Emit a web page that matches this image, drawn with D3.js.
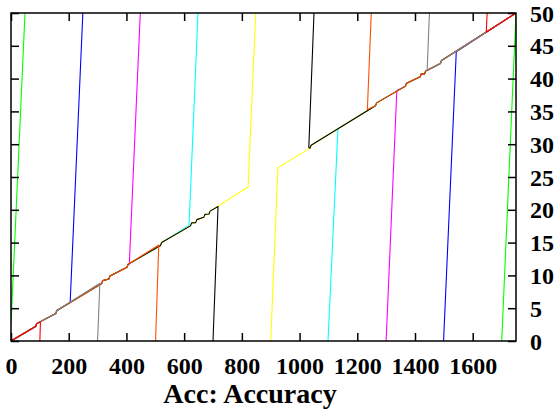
<!DOCTYPE html>
<html>
<head>
<meta charset="utf-8">
<script src="https://cdn.jsdelivr.net/npm/d3@7"></script>
<style>
  html, body { margin: 0; padding: 0; background: #fff; }
  svg { display: block; }
</style>
</head>
<body>
<svg id="chart" width="555" height="417"></svg>
<script>
// ---------------- data ----------------
const xTicks = [0, 200, 400, 600, 800, 1000, 1200, 1400, 1600];
const yTicks = [0, 5, 10, 15, 20, 25, 30, 35, 40, 45, 50];
const xTitle = "Acc: Accuracy";

// shared diagonal profile (x, y) with the small notches
const profile = [
  [0, 0], [85, 2.2], [89, 2.65], [155, 4.2], [159, 4.65],
  [314, 8.75], [318, 9.2], [339, 9.45], [343, 9.9], [402, 11.25], [406, 11.7],
  [518, 14.55], [522, 15.0], [622, 17.55], [626, 18.0], [640, 18.05], [644, 18.5],
  [668, 18.85], [672, 19.3], [686, 19.35], [690, 19.8],
  [1036, 29.4], [1040, 29.85], [1263, 35.85], [1267, 36.3], [1367, 38.85], [1371, 39.3],
  [1418, 40.3], [1422, 40.75], [1433, 40.7], [1437, 41.15], [1488, 42.3], [1492, 42.75],
  [1750, 50]
];

// series, in drawing order (last on top)
const seriesColors = ["#00ff00", "#0000ff", "#ff00ff", "#00ffff", "#ffff00", "#000000", "#ff4d00", "#808080", "#ff0000"];
// where each series leaves the diagonal on the left, and the end of its steep piece
const leftJoin  = [[0, 2.5], [205, 5.86], [410, 11.71], [617, 17.63], [821.5, 23.47], [717.5, 20.5], [512, 14.63], [308, 8.8], [102, 2.91]];
const leftTip   = [[48.5, 50], [249, 50], [448, 50], [648, 50], [848, 50], [700, 0], [501, 0], [300, 0], [100, 0]];
// start of the steep piece on the right, and where it rejoins the diagonal
const rightTip  = [[1700.5, 0], [1499, 0], [1300, 0], [1098.5, 0], [900, 0], [1050, 50], [1248.5, 50], [1450, 50], [1650, 50]];
const rightJoin = [[1750, 50], [1543, 44.09], [1337, 38.2], [1133, 32.37], [925, 26.43], [1032, 29.49], [1235, 35.29], [1442, 41.2], [1647, 47.06]];

// ---------------- layout ----------------
const plot = { left: 11, right: 516, top: 13, bottom: 341 };
const svg = d3.select("#chart");

const x = d3.scaleLinear().domain([0, 1750]).range([plot.left, plot.right]);
const y = d3.scaleLinear().domain([0, 50]).range([plot.bottom, plot.top]);

svg.append("defs").append("clipPath").attr("id", "clip")
  .append("rect")
  .attr("x", plot.left).attr("y", plot.top)
  .attr("width", plot.right - plot.left).attr("height", plot.bottom - plot.top);

const line = d3.line().x(d => x(d[0])).y(d => y(d[1]));
const g = svg.append("g").attr("clip-path", "url(#clip)");

seriesColors.forEach((c, i) => {
  const lj = leftJoin[i], rj = rightJoin[i];
  const leftPart = profile.filter(p => p[0] < lj[0]).concat([lj, leftTip[i]]);
  const rightPart = [rightTip[i], rj].concat(profile.filter(p => p[0] > rj[0]));
  [leftPart, rightPart].forEach(part => {
    g.append("path")
      .attr("d", line(part))
      .attr("fill", "none")
      .attr("stroke", c)
      .attr("stroke-width", 1.1)
      .attr("stroke-linejoin", "round");
  });
});

// ---------------- axes ----------------
const tickLen = 8;
const axisColor = "#000";
const fmt = d3.format("d");
const bottomAxis = d3.axisBottom(x).tickValues(xTicks).tickFormat(fmt).tickSizeInner(-tickLen).tickSizeOuter(0);
const topAxis = d3.axisTop(x).tickValues(xTicks).tickSizeInner(-tickLen).tickSizeOuter(0).tickFormat("");
const leftAxis = d3.axisLeft(y).tickValues(yTicks).tickSizeInner(-tickLen).tickSizeOuter(0).tickFormat("");
const rightAxis = d3.axisRight(y).tickValues(yTicks).tickFormat(fmt).tickSizeInner(-tickLen).tickSizeOuter(0);

function styleAxis(sel) {
  sel.select(".domain").remove();
  sel.selectAll("line").attr("stroke", axisColor).attr("stroke-width", 1.5);
  sel.selectAll("text")
    .attr("fill", "#000")
    .style("font-family", "'Liberation Serif', 'Times New Roman', serif")
    .style("font-weight", "bold")
    .style("font-size", "24px");
}

const gb = svg.append("g").attr("transform", `translate(0,${plot.bottom})`).call(bottomAxis).call(styleAxis);
gb.selectAll("text").attr("dy", null).attr("y", 33);
svg.append("g").attr("transform", `translate(0,${plot.top})`).call(topAxis).call(styleAxis);
svg.append("g").attr("transform", `translate(${plot.left},0)`).call(leftAxis).call(styleAxis);
const gr = svg.append("g").attr("transform", `translate(${plot.right},0)`).call(rightAxis).call(styleAxis);
gr.selectAll("text").attr("dy", null).attr("x", 14).attr("y", 8).attr("text-anchor", "start");

// frame
svg.append("rect")
  .attr("x", plot.left).attr("y", plot.top)
  .attr("width", plot.right - plot.left).attr("height", plot.bottom - plot.top)
  .attr("fill", "none").attr("stroke", axisColor).attr("stroke-width", 1.5);

// title
svg.append("text")
  .attr("x", 250).attr("y", 403)
  .attr("text-anchor", "middle")
  .style("font-family", "'Liberation Serif', 'Times New Roman', serif")
  .style("font-weight", "bold")
  .style("font-size", "28px")
  .text(xTitle);
</script>
</body>
</html>
